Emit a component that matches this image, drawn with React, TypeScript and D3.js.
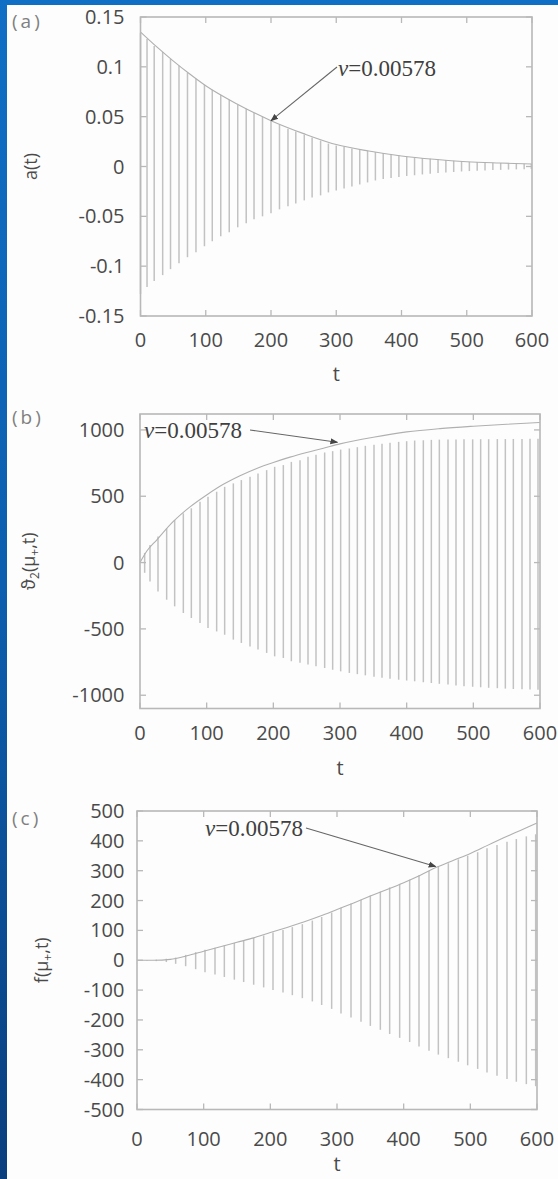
import React from 'react';
import * as d3 from 'd3';

// ---------- data ----------
const X_TICKS = [0, 100, 200, 300, 400, 500, 600];

// panel (a): a(t)
const A_YTICKS = [0.15, 0.1, 0.05, 0, -0.05, -0.1, -0.15];
const A_YTICK_LABELS = ['0.15', '0.1', '0.05', '0', '-0.05', '-0.1', '-0.15'];
const T_A = [0, 10, 21, 34, 46, 59, 72, 85, 98, 110, 123, 136, 149, 162, 174, 187, 200, 213, 226, 238, 251, 263, 276, 288, 300, 312, 324, 336, 348, 360, 372, 384, 396, 408, 420, 432, 444, 456, 468, 480, 492, 504, 516, 528, 540, 552, 564, 576, 588, 599];
const A_HI = [0.134, 0.128, 0.121, 0.115, 0.108, 0.101, 0.094, 0.088, 0.082, 0.077, 0.072, 0.067, 0.062, 0.058, 0.054, 0.050, 0.046, 0.042, 0.038, 0.035, 0.032, 0.029, 0.026, 0.023, 0.021, 0.020, 0.018, 0.017, 0.0157, 0.0145, 0.0135, 0.0125, 0.011, 0.010, 0.0092, 0.0085, 0.0077, 0.007, 0.0064, 0.0058, 0.0052, 0.0047, 0.0044, 0.0041, 0.0038, 0.0035, 0.0032, 0.003, 0.0028, 0.0025];
const A_LO = [-0.128, -0.121, -0.115, -0.109, -0.103, -0.097, -0.091, -0.086, -0.080, -0.075, -0.070, -0.066, -0.061, -0.057, -0.053, -0.050, -0.047, -0.043, -0.040, -0.037, -0.034, -0.031, -0.029, -0.026, -0.024, -0.022, -0.020, -0.018, -0.016, -0.014, -0.0125, -0.0115, -0.0105, -0.0095, -0.0088, -0.008, -0.0073, -0.0066, -0.006, -0.0055, -0.005, -0.0046, -0.0042, -0.0039, -0.0036, -0.0034, -0.0031, -0.0029, -0.0027, -0.0025];
const A_ENV_T = [0, 25, 50, 75, 100, 150, 200, 250, 300, 350, 400, 450, 500, 550, 600];
const A_ENV = [0.135, 0.120, 0.106, 0.093, 0.081, 0.062, 0.046, 0.033, 0.022, 0.0155, 0.0105, 0.0072, 0.0048, 0.0035, 0.0025];

// panel (b): theta2(mu+, t)
const B_YTICKS = [1000, 500, 0, -500, -1000];
const T_B = [7, 15, 27, 40, 52, 65, 77, 90, 102, 115, 127, 140, 152, 165, 177, 190, 202, 215, 227, 240, 252, 264, 277, 289, 301, 314, 326, 338, 351, 363, 375, 388, 400, 412, 425, 437, 449, 462, 474, 486, 499, 511, 523, 536, 548, 560, 573, 585, 597];
const B_HI = [73, 133, 196, 258, 321, 371, 409, 459, 496, 534, 571, 597, 622, 647, 672, 697, 722, 735, 759, 772, 797, 812, 830, 840, 852, 860, 870, 880, 888, 896, 903, 910, 915, 920, 922, 925, 927, 928, 928, 929, 929, 930, 930, 931, 931, 932, 932, 933, 933];
const B_LO = [-77, -143, -218, -280, -330, -380, -418, -456, -493, -519, -544, -581, -606, -632, -656, -681, -707, -719, -744, -756, -769, -782, -795, -808, -820, -832, -841, -850, -860, -869, -876, -883, -889, -895, -902, -908, -914, -920, -926, -932, -936, -940, -944, -947, -950, -953, -955, -957, -958];
const B_ENV_T = [0, 10, 25, 50, 75, 100, 125, 150, 175, 200, 225, 250, 275, 300, 350, 400, 450, 500, 550, 600];
const B_ENV = [0, 85, 170, 310, 420, 510, 590, 655, 710, 755, 795, 830, 862, 895, 945, 985, 1010, 1028, 1043, 1056];

// panel (c): f(mu+, t)
const C_YTICKS = [500, 400, 300, 200, 100, 0, -100, -200, -300, -400, -500];
const T_C = [15, 29, 44, 58, 73, 88, 102, 117, 131, 146, 160, 175, 190, 204, 219, 233, 248, 263, 277, 292, 306, 321, 336, 350, 365, 379, 394, 409, 423, 438, 452, 467, 482, 496, 511, 525, 540, 555, 569, 584, 598];
const C_HI = [1, 2, 5, 9, 18, 27, 35, 42, 50, 58, 66, 75, 83, 93, 101, 111, 121, 133, 145, 160, 176, 190, 203, 217, 230, 244, 256, 270, 285, 300, 314, 325, 338, 350, 362, 375, 386, 397, 406, 415, 422];
const C_LO = [-1, -3, -6, -12, -20, -30, -40, -48, -56, -65, -73, -82, -91, -100, -108, -117, -127, -138, -150, -163, -178, -192, -206, -220, -233, -247, -260, -274, -289, -303, -316, -328, -340, -352, -364, -376, -387, -398, -407, -415, -422];
const C_ENV_T = [0, 25, 50, 75, 100, 125, 150, 175, 200, 225, 250, 275, 300, 325, 350, 375, 400, 425, 450, 475, 500, 525, 550, 575, 600];
const C_ENV = [0, 0, 3, 15, 30, 45, 60, 75, 93, 110, 128, 148, 170, 192, 215, 237, 260, 285, 312, 335, 358, 384, 410, 435, 460];

const NU_SYMBOL = 'ν';
const NU_VALUE = '=0.00578';

// ---------- layout ----------
const W = 558;
const H = 1179;
const SANS = "'Open Sans', 'DejaVu Sans', sans-serif";
const SERIF = "'Liberation Serif', 'DejaVu Serif', serif";
const TEXT = '#4a4a4a';
const FRAME = '#b8b8b8';

type Cfg = {
  id: string;
  left: number; right: number; top: number; bottom: number;
  yDomain: [number, number];
  yTicks: number[]; yTickLabels: string[];
  t: number[]; hi: number[]; lo: number[];
  envT: number[]; env: number[];
  xLabelY: number; tLabelY: number;
  tag: string; tagY: number;
  yLabel: string; yLabelX: number;
  nuX: number; nuY: number; arrowFrom: [number, number]; arrowTo: [number, number];
};

const panels: Cfg[] = [
  {
    id: 'a', left: 140.5, right: 532, top: 17, bottom: 316,
    yDomain: [-0.15, 0.15], yTicks: A_YTICKS, yTickLabels: A_YTICK_LABELS,
    t: T_A, hi: A_HI, lo: A_LO, envT: A_ENV_T, env: A_ENV,
    xLabelY: 340, tLabelY: 374, tag: '(a)', tagY: 21,
    yLabel: 'a(t)', yLabelX: 31,
    nuX: 338, nuY: 68, arrowFrom: [337, 67], arrowTo: [200, 0.046],
  },
  {
    id: 'b', left: 140, right: 540, top: 414, bottom: 708.5,
    yDomain: [-1100, 1120], yTicks: B_YTICKS, yTickLabels: B_YTICKS.map(String),
    t: T_B, hi: B_HI, lo: B_LO, envT: B_ENV_T, env: B_ENV,
    xLabelY: 733, tLabelY: 768, tag: '(b)', tagY: 417,
    yLabel: 'theta', yLabelX: 29,
    nuX: 144, nuY: 430, arrowFrom: [250, 430], arrowTo: [296, 907],
  },
  {
    id: 'c', left: 137, right: 537, top: 811, bottom: 1109.5,
    yDomain: [-500, 500], yTicks: C_YTICKS, yTickLabels: C_YTICKS.map(String),
    t: T_C, hi: C_HI, lo: C_LO, envT: C_ENV_T, env: C_ENV,
    xLabelY: 1139, tLabelY: 1164, tag: '(c)', tagY: 818,
    yLabel: 'f', yLabelX: 42,
    nuX: 205, nuY: 828, arrowFrom: [306, 828], arrowTo: [448, 314],
  },
];

function YLabel({ kind, x, y }: { kind: string; x: number; y: number }) {
  const common = { fontFamily: SANS, fontSize: 18, fill: TEXT, textAnchor: 'middle' as const };
  if (kind === 'theta') {
    return (
      <text transform={`translate(${x},${y}) rotate(-90)`} dy="0.35em" {...common}>
        ϑ<tspan dy="4" fontSize="12">2</tspan><tspan dy="-4">(μ</tspan><tspan dy="4" fontSize="12">+</tspan><tspan dy="-4">,t)</tspan>
      </text>
    );
  }
  if (kind === 'f') {
    return (
      <text transform={`translate(${x},${y}) rotate(-90)`} dy="0.35em" {...common}>
        f(μ<tspan dy="4" fontSize="12">+</tspan><tspan dy="-4">,t)</tspan>
      </text>
    );
  }
  return (
    <text transform={`translate(${x},${y}) rotate(-90)`} dy="0.35em" {...common}>{kind}</text>
  );
}

function Panel({ c }: { c: Cfg }) {
  const x = d3.scaleLinear().domain([0, 600]).range([c.left, c.right]);
  const y = d3.scaleLinear().domain(c.yDomain).range([c.bottom, c.top]);
  const envPts: [number, number][] = c.envT.map((t, i) => [t, c.env[i]]);
  const envPath = d3.line<[number, number]>()
    .x(d => x(d[0]))
    .y(d => y(d[1]))
    .curve(d3.curveMonotoneX)(envPts) || '';
  const tipX = x(c.arrowTo[0]);
  const tipY = y(c.arrowTo[1]);
  const tick = 6;
  return (
    <g>
      <g filter="url(#soft)">
        {/* oscillation strokes */}
        <g stroke="#c2c2c2" strokeWidth={1.5}>
          {c.t.map((t, i) => (
            <line key={i} x1={x(t)} x2={x(t)} y1={y(c.lo[i])} y2={y(c.hi[i])} />
          ))}
        </g>
        <path d={envPath} fill="none" stroke="#b0b0b0" strokeWidth={1.1} />
        {/* frame */}
        <rect x={c.left} y={c.top} width={c.right - c.left} height={c.bottom - c.top} fill="none" stroke={FRAME} strokeWidth={1.6} />
        {/* ticks */}
        <g stroke={FRAME} strokeWidth={1.3}>
          {X_TICKS.map(v => (
            <g key={'x' + v}>
              <line x1={x(v)} x2={x(v)} y1={c.bottom} y2={c.bottom - tick} />
              <line x1={x(v)} x2={x(v)} y1={c.top} y2={c.top + tick} />
            </g>
          ))}
          {c.yTicks.map(v => (
            <g key={'y' + v}>
              <line x1={c.left} x2={c.left + tick} y1={y(v)} y2={y(v)} />
              <line x1={c.right} x2={c.right - tick} y1={y(v)} y2={y(v)} />
            </g>
          ))}
        </g>
        <line x1={c.arrowFrom[0]} y1={c.arrowFrom[1]} x2={tipX} y2={tipY} stroke="#666" strokeWidth={1.1} markerEnd="url(#arrowhead)" />
      </g>
      {/* tick labels */}
      <g fontFamily={SANS} fontSize={20} fill={TEXT}>
        {X_TICKS.map(v => (
          <text key={'xl' + v} x={x(v)} y={c.xLabelY} dy="0.35em" textAnchor="middle">{v}</text>
        ))}
        {c.yTicks.map((v, i) => (
          <text key={'yl' + v} x={124.5} y={y(v)} dy="0.35em" textAnchor="end">{c.yTickLabels[i]}</text>
        ))}
      </g>
      <text x={(c.left + c.right) / 2} y={c.tLabelY} dy="0.35em" textAnchor="middle" fontFamily={SANS} fontSize={20} fill={TEXT}>t</text>
      <YLabel kind={c.yLabel} x={c.yLabelX} y={(c.top + c.bottom) / 2} />
      <text x={12} y={c.tagY} dy="0.35em" fontFamily={SANS} fontSize={19} fill="#808080" letterSpacing="3">{c.tag}</text>
      {/* annotation */}
      <text x={c.nuX} y={c.nuY} dy="0.33em" fontFamily={SERIF} fontSize={23} fill="#404040">
        <tspan fontStyle="italic">{NU_SYMBOL}</tspan>{NU_VALUE}
      </text>
    </g>
  );
}

export default function App() {
  return (
    <svg width={W} height={H} viewBox={`0 0 ${W} ${H}`} style={{ position: 'absolute', left: 0, top: 0, display: 'block' }}>
      <defs>
        <linearGradient id="bluebg" x1="0" y1="0" x2="0" y2="1">
          <stop offset="0" stopColor="#0f6fc4" />
          <stop offset="0.5" stopColor="#0c5eae" />
          <stop offset="1" stopColor="#0a3f7e" />
        </linearGradient>
        <filter id="soft" x="-5%" y="-5%" width="110%" height="110%">
          <feGaussianBlur stdDeviation="0.45" />
        </filter>
        <marker id="arrowhead" viewBox="0 0 10 10" refX="9" refY="5" markerWidth="7" markerHeight="7" orient="auto-start-reverse">
          <path d="M0,1 L10,5 L0,9 z" fill="#444" />
        </marker>
      </defs>
      <rect x={0} y={0} width={W} height={H} fill="url(#bluebg)" />
      <rect x={7} y={5} width={W - 7} height={H - 5} fill="#fdfdfd" />
      {panels.map(p => <Panel key={p.id} c={p} />)}
    </svg>
  );
}
